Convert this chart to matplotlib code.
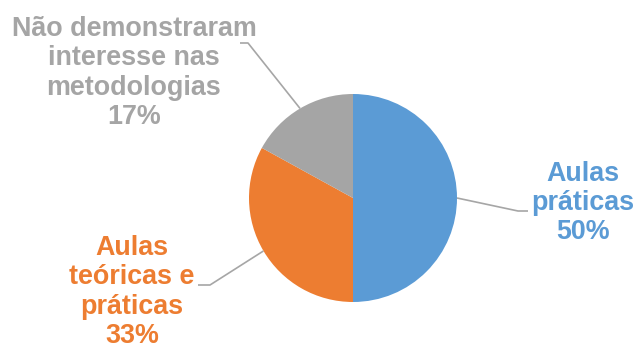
import numpy as np
import matplotlib.pyplot as plt

plt.rcParams['font.family'] = ['Liberation Sans', 'DejaVu Sans']

# Slice data (clockwise from the top)
labels = ["Aulas\npráticas", "Aulas\nteóricas e\npráticas", "Não demonstraram\ninteresse nas\nmetodologias"]
values = [50, 33, 17]
colors = ["#5B9BD5", "#ED7D31", "#A5A5A5"]

W, H = 637, 347
fig = plt.figure(figsize=(W / 100, H / 100), dpi=100)
ax = fig.add_axes([0, 0, 1, 1])

cx, cy, r = 353, H - 198, 104
wedges, _ = ax.pie(values, colors=colors, startangle=90, counterclock=False,
                   center=(cx, cy), radius=r, frame=True,
                   wedgeprops=dict(linewidth=0))
ax.set_xlim(0, W)
ax.set_ylim(0, H)
ax.set_aspect('equal')
ax.axis('off')

# label centre, elbow point, end of leader (pixel coords from top)
label_pos = [(583, 203), (132, 292), (134, 73)]
elbows = [(518, 211), (210, 285), (248, 43)]
ends = [(528, 211), (198, 285), (240, 43)]

for w, lab, v, col, lp, el, en in zip(wedges, labels, values, colors, label_pos, elbows, ends):
    mid = np.deg2rad((w.theta1 + w.theta2) / 2)
    sx, sy = cx + r * np.cos(mid), cy + r * np.sin(mid)
    ax.plot([sx, el[0], en[0]], [sy, H - el[1], H - en[1]], color="#A6A6A6", lw=1.2,
            solid_capstyle='butt')
    ax.text(lp[0], H - lp[1], f"{lab}\n{v}%", color=col, fontsize=19.4, fontweight='bold',
            ha='center', va='center', linespacing=1.16)

fig.savefig("out.png", dpi=100)
